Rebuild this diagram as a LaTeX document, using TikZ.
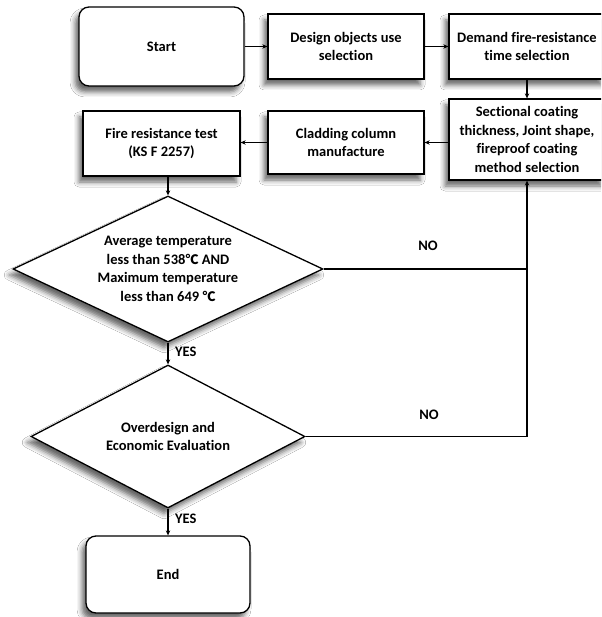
\documentclass[tikz,border=0pt]{standalone}
\usepackage{fontspec}
\setmainfont{Carlito}[Ligatures={NoCommon,NoContextual}]
\newfontfamily\cjkfont{Noto Sans CJK KR}
\newcommand{\degc}{{\cjkfont\fontsize{13}{16}\selectfont ℃}}
\usetikzlibrary{shapes.geometric,shadows.blur,arrows.meta}
\begin{document}
\begin{tikzpicture}[x=1pt,y=-1pt,
  txt/.style={font=\fontsize{14.5}{18.6}\selectfont\bfseries, align=center, inner sep=0pt},
  shad/.style={blur shadow={shadow xshift=-4pt, shadow yshift=-6pt, shadow blur radius=5pt, shadow opacity=60}},
  box/.style={txt, draw, line width=1.3pt, fill=white, minimum width=156pt, shad},
  term/.style={box, rounded corners=10pt},
  dec/.style={draw, diamond, line width=1.3pt, fill=white, inner sep=0pt, shad},
  lbl/.style={txt, font=\fontsize{14.5}{16}\selectfont\bfseries},
  conn/.style={line width=1.2pt},
  arr/.style={conn, -{Stealth[length=5pt,width=4.5pt]}}
]
\useasboundingbox (0,0) rectangle (601,617);
\fill[white] (0,0) rectangle (601,617);
\clip (0,0) rectangle (601,617);

\node[term, minimum width=165pt, minimum height=79pt] (start) at (161.5,46.5) {Start};
\node[box, minimum height=65pt] (design) at (346,46.5) {Design objects use\\selection};
\node[box, minimum height=65pt] (demand) at (527,46.5) {Demand fire-resistance\\time selection};
\node[box, minimum height=81pt] (sect) at (527,139.5) {Sectional coating\\thickness, Joint shape,\\fireproof coating\\method selection};
\node[box, minimum height=63pt] (clad) at (346,142.5) {Cladding column\\manufacture};
\node[box, minimum width=157pt, minimum height=65pt] (fire) at (161.5,143.5) {Fire resistance test\\(KS F 2257)};

\node[dec, minimum width=310pt, minimum height=146pt] (d1) at (168,269) {};
\node[txt] (d1t) at (d1.center) {Average temperature\\less than 538\degc{} AND\\Maximum temperature\\less than 649 \degc};

\node[dec, minimum width=274pt, minimum height=143pt] (d2) at (168,436.5) {};
\node[txt] (d2t) at (d2.center) {Overdesign and\\Economic Evaluation};

\node[term, minimum width=164pt, minimum height=77pt] (end) at (168,574.5) {End};

\node[lbl, anchor=west] (yes1) at (175,352) {YES};
\node[lbl, anchor=west] (yes2) at (175,519) {YES};
\node[lbl] (no1) at (428,246) {NO};
\node[lbl] (no2) at (429,415) {NO};

\draw[arr] (start.east) -- (design.west);
\draw[arr] (design.east) -- (demand.west);
\draw[arr] (demand.south) -- (sect.north);
\draw[arr] (sect.west |- clad.east) -- (clad.east);
\draw[arr] (clad.west) -- (fire.east |- clad.west);
\draw[arr] (fire.south -| d1.north) -- (d1.north);
\draw[arr] (d1.south) -- (d2.north);
\draw[arr] (d2.south) -- (end.north);
\draw[conn] (d1.east) -- (d1.east -| sect.south);
\draw[arr] (d2.east) -- (d2.east -| sect.south) -- (sect.south);
\end{tikzpicture}
\end{document}
